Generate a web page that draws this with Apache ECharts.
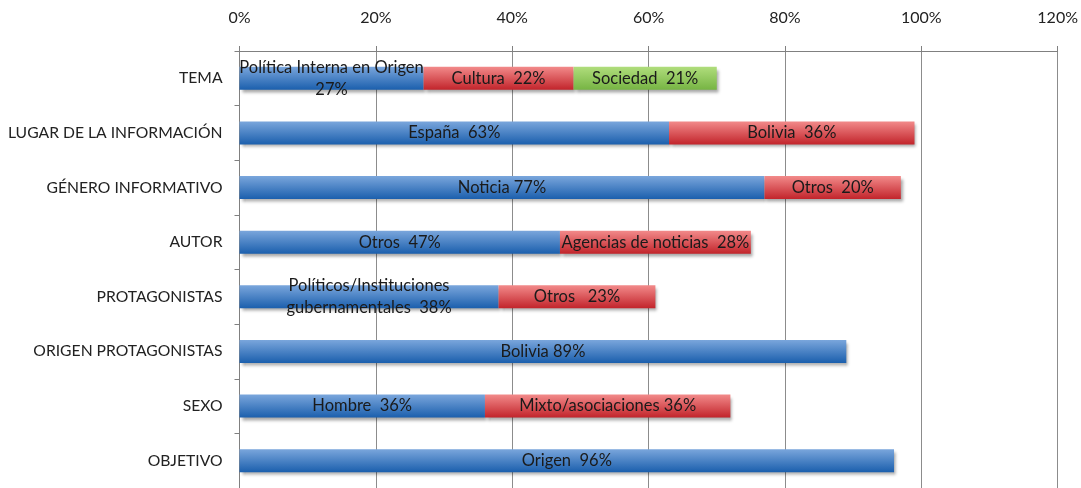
<!DOCTYPE html>
<html>
<head>
<meta charset="utf-8">
<script src="https://cdn.jsdelivr.net/npm/echarts@6/dist/echarts.min.js"></script>
<style>
  html, body { margin: 0; padding: 0; background: #ffffff; }
  #chart { width: 1081px; height: 488px; }
</style>
</head>
<body>
<div id="chart"></div>
<script>
// Categories, top to bottom
const categories = [
  'TEMA', 'LUGAR DE LA INFORMACIÓN', 'GÉNERO INFORMATIVO', 'AUTOR',
  'PROTAGONISTAS', 'ORIGEN PROTAGONISTAS', 'SEXO', 'OBJETIVO'
];

// First segment (blue)
const seg1Values = [27, 63, 77, 47, 38, 89, 36, 96];
const seg1Names = [
  'Política Interna en Origen', 'España', 'Noticia', 'Otros',
  'Políticos/Instituciones\ngubernamentales', 'Bolivia', 'Hombre', 'Origen'
];
const seg1Seps = ['\n', '  ', ' ', '  ', '  ', ' ', '  ', '  '];

// Second segment (red)
const seg2Values = [22, 36, 20, 28, 23, null, 36, null];
const seg2Names = ['Cultura', 'Bolivia', 'Otros', 'Agencias de noticias', 'Otros', '', 'Mixto/asociaciones', ''];
const seg2Seps = ['  ', '  ', '  ', '  ', '   ', '', ' ', ''];

// Third segment (green)
const seg3Values = [21, null, null, null, null, null, null, null];
const seg3Names = ['Sociedad', '', '', '', '', '', '', ''];
const seg3Seps = ['  ', '', '', '', '', '', '', ''];

// Horizontal axis ticks
const xTicks = [0, 20, 40, 60, 80, 100, 120];

const FONT = 'Lato, "Open Sans", sans-serif';

function grad(top, bottom) {
  return new echarts.graphic.LinearGradient(0, 0, 0, 1, [
    { offset: 0, color: top },
    { offset: 1, color: bottom }
  ]);
}

function makeSeries(name, values, names, seps, top, bottom) {
  return {
    name: name,
    type: 'bar',
    stack: 'total',
    barWidth: 23,
    data: values,
    itemStyle: {
      color: grad(top, bottom),
      shadowColor: 'rgba(0,0,0,0.35)',
      shadowBlur: 3,
      shadowOffsetX: 2,
      shadowOffsetY: 3
    },
    label: {
      show: true,
      position: 'inside',
      color: '#1a1a1a',
      fontFamily: FONT,
      fontSize: 16.5,
      lineHeight: 22,
      formatter: function (p) {
        if (p.value == null) return '';
        return names[p.dataIndex] + seps[p.dataIndex] + p.value + '%';
      }
    },
    emphasis: { disabled: true }
  };
}

const chart = echarts.init(document.getElementById('chart'), null, { renderer: 'canvas' });

chart.setOption({
  animation: false,
  backgroundColor: '#ffffff',
  grid: { left: 239.5, top: 51, right: 23, height: 443, containLabel: false },
  xAxis: {
    type: 'value',
    position: 'top',
    min: xTicks[0],
    max: xTicks[xTicks.length - 1],
    interval: 20,
    axisLine: { show: true, lineStyle: { color: '#808080', width: 1 } },
    axisTick: { show: true, length: 5, lineStyle: { color: '#808080' } },
    splitLine: { show: true, lineStyle: { color: '#8c8c8c', width: 1 } },
    axisLabel: {
      margin: 25,
      color: '#222222',
      fontFamily: FONT,
      fontSize: 16,
      formatter: '{value}%'
    }
  },
  yAxis: {
    type: 'category',
    inverse: true,
    data: categories,
    axisLine: { show: true, lineStyle: { color: '#808080', width: 1 } },
    axisTick: { show: true, length: 5, lineStyle: { color: '#808080' } },
    axisLabel: {
      margin: 17,
      color: '#222222',
      fontFamily: FONT,
      fontSize: 15.7
    }
  },
  series: [
    makeSeries('seg1', seg1Values, seg1Names, seg1Seps, '#7aa6dc', '#1b5fad'),
    makeSeries('seg2', seg2Values, seg2Names, seg2Seps, '#f28a8a', '#c2242b'),
    makeSeries('seg3', seg3Values, seg3Names, seg3Seps, '#b0dd7c', '#76b443')
  ]
});
</script>
</body>
</html>
